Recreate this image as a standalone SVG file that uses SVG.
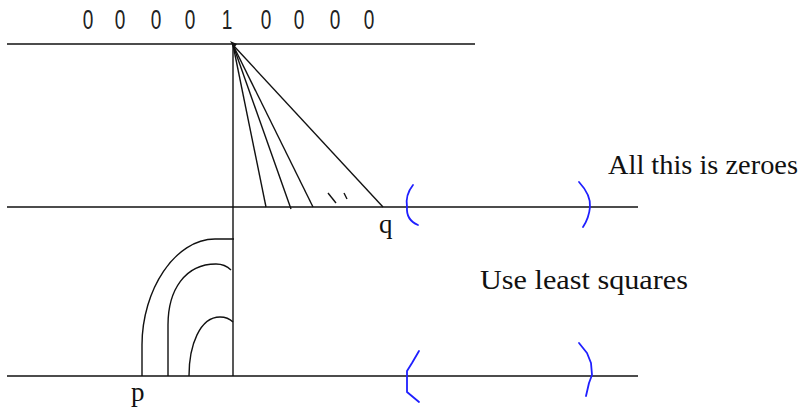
<svg xmlns="http://www.w3.org/2000/svg" width="803" height="414" viewBox="0 0 803 414">
<style>
.ln{stroke:#111;stroke-width:1.4;fill:none}
.bl{stroke:#1f1fff;stroke-width:1.8;fill:none;stroke-linecap:round;stroke-linejoin:round}
.dg{font-family:"Liberation Sans",Arial,sans-serif;font-size:28px;fill:#222;text-anchor:middle}
.tx{font-family:"Liberation Serif","Times New Roman",serif;font-size:27px;fill:#111}
</style>
<rect width="803" height="414" fill="#fff"/>
<g id="digits" transform="scale(0.68,1)">
<text class="dg" x="129.4" y="29">0</text>
<text class="dg" x="176.5" y="29">0</text>
<text class="dg" x="229.4" y="29">0</text>
<text class="dg" x="279.4" y="29">0</text>
<text class="dg" x="333.8" y="29">1</text>
<text class="dg" x="391.2" y="29">0</text>
<text class="dg" x="439.7" y="29">0</text>
<text class="dg" x="492.6" y="29">0</text>
<text class="dg" x="542.6" y="29">0</text>
</g>
<g id="connectors">
<line class="ln" x1="7" y1="44" x2="475" y2="44"/>
<line class="ln" x1="7" y1="207" x2="638" y2="207"/>
<line class="ln" x1="7" y1="376" x2="638" y2="376"/>
<line class="ln" x1="233" y1="44" x2="233" y2="376"/>
<line class="ln" x1="233" y1="45" x2="266" y2="207"/>
<line class="ln" x1="233" y1="45" x2="291" y2="209"/>
<line class="ln" x1="233" y1="45" x2="313" y2="207"/>
<line class="ln" x1="233" y1="45" x2="383" y2="207"/>
<line class="ln" x1="328" y1="193" x2="336" y2="203"/>
<line class="ln" x1="344" y1="193" x2="347" y2="199"/>
<path class="ln" d="M142,376 L142,345 C142,290 175,239 215,239 L234,239"/>
<path class="ln" d="M168,376 L168,325 C168,290 185,264 216,264 C224,264 228,267 231,270"/>
<path class="ln" d="M189,376 C189,345 200,317 220,317 C226,317 230,319 233,322"/>
<path d="M230,41 L237,44 L234,48 Z" fill="#111"/>
</g>
<g id="brackets">
<path class="bl" d="M413,185 Q405,195 407,207 Q406,220 418,225"/>
<path class="bl" d="M579,182 Q591,195 590,207 Q589,218 583,227"/>
<path class="bl" d="M419,351 L412,363 L407,371 L407,392 L413,397 L419,402"/>
<path class="bl" d="M579,343 L587,353 L591,363 L592,375 L589,383 L586,396"/>
</g>
<g id="labels">
<text class="tx" x="379" y="233">q</text>
<text class="tx" x="131" y="401">p</text>
<text class="tx" x="608" y="174" textLength="190" lengthAdjust="spacingAndGlyphs">All this is zeroes</text>
<text class="tx" x="480" y="289" textLength="208" lengthAdjust="spacingAndGlyphs">Use least squares</text>
</g>
</svg>
